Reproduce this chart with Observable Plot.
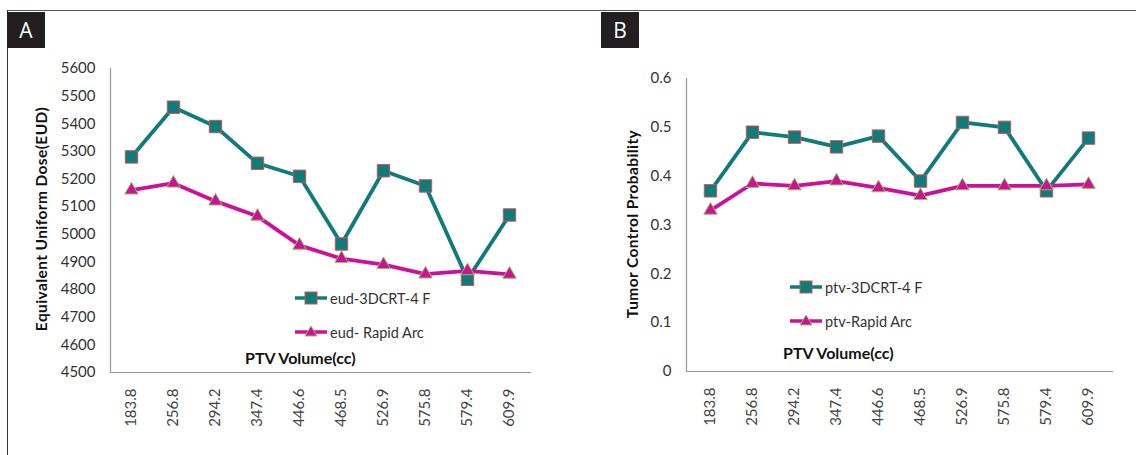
<!DOCTYPE html>
<html>
<head>
<meta charset="utf-8">
<script src="https://cdn.jsdelivr.net/npm/d3@7"></script>
<script src="https://cdn.jsdelivr.net/npm/@observablehq/plot@0.6"></script>
<style>
  html, body { margin: 0; padding: 0; background: #fff; }
  #root { position: relative; width: 1136px; height: 455px; overflow: hidden; font-family: Lato, "Open Sans", sans-serif; }
  .panel { position: absolute; top: 0; }
  .tag { position: absolute; top: 12px; width: 38px; height: 36px; background: #231f20; color: #fff;
         font: 21px "Open Sans", sans-serif; line-height: 36px; text-align: center; }
  .ytitle { position: absolute; font-weight: bold; font-size: 15.5px; color: #111; white-space: nowrap;
            transform: translate(-50%, -50%) rotate(-90deg); letter-spacing: 0.4px; }
  .xtitle { position: absolute; font-weight: bold; font-size: 16px; color: #111; white-space: nowrap; }
  .leg { position: absolute; display: flex; align-items: center; font-size: 14.5px; color: #333; white-space: nowrap; }
  .leg svg { margin-right: 3px; }
  .border-top { position: absolute; left: 7px; top: 10px; width: 1129px; height: 0; border-top: 1.5px solid #555; }
  .border-left { position: absolute; left: 7px; top: 10px; width: 0; height: 445px; border-left: 1.5px solid #333; }
</style>
</head>
<body>
<div id="root">
  <div class="border-top"></div>
  <div class="border-left"></div>
</div>
<script>
// ---- data ----
const volumes = ["183.8","256.8","294.2","347.4","446.6","468.5","526.9","575.8","579.4","609.9"];
const eud3dcrt = [5280, 5460, 5390, 5257, 5210, 4965, 5230, 5175, 4837, 5070];
const eudRapidArc = [5160, 5185, 5120, 5065, 4960, 4912, 4890, 4856, 4868, 4855];
const tcp3dcrt = [0.37, 0.49, 0.48, 0.46, 0.482, 0.39, 0.51, 0.50, 0.37, 0.478];
const tcpRapidArc = [0.33, 0.385, 0.38, 0.39, 0.376, 0.36, 0.38, 0.38, 0.38, 0.383];
const eudTicks = [4500, 4600, 4700, 4800, 4900, 5000, 5100, 5200, 5300, 5400, 5500, 5600];
const tcpTicks = [0, 0.1, 0.2, 0.3, 0.4, 0.5, 0.6];
const seriesNamesA = ["eud-3DCRT-4 F", "eud- Rapid Arc"];
const seriesNamesB = ["ptv-3DCRT-4 F", "ptv-Rapid Arc"];

const TEAL = "#0f7b7b", TEAL_EDGE = "#c8554f";
const MAG = "#cc1199", MAG_EDGE = "#9bbb59";

const rows = (vals) => volumes.map((v, i) => ({volume: v, value: vals[i]}));

function panel({a, b, yTicks, yDomain, width, ml, mr, mt, mb}) {
  return Plot.plot({
    width, height: 455,
    marginLeft: ml, marginRight: mr, marginTop: mt, marginBottom: mb,
    style: {fontFamily: "Lato, 'Open Sans', sans-serif", fontSize: "15px", color: "#333", background: "transparent", overflow: "visible"},
    x: {type: "point", domain: volumes, padding: 0.5, axis: null},
    y: {domain: yDomain, axis: null},
    marks: [
      Plot.frame({anchor: "left", stroke: "#999", strokeWidth: 1.2}),
      Plot.frame({anchor: "bottom", stroke: "#999", strokeWidth: 1.2}),
      Plot.axisY({ticks: yTicks, tickSize: 0, tickPadding: 15, tickFormat: d => String(d), label: null, fill: "#333"}),
      Plot.axisX({tickRotate: -90, tickSize: 0, tickPadding: 16, label: null, fill: "#444"}),
      Plot.line(rows(a), {x: "volume", y: "value", stroke: TEAL, strokeWidth: 3.8}),
      Plot.line(rows(b), {x: "volume", y: "value", stroke: MAG, strokeWidth: 3.8}),
      Plot.dot(rows(a), {x: "volume", y: "value", symbol: "square", r: 7, fill: TEAL, stroke: TEAL_EDGE, strokeWidth: 1}),
      Plot.dot(rows(b), {x: "volume", y: "value", symbol: "triangle", r: 5, fill: MAG, stroke: MAG_EDGE, strokeWidth: 1})
    ]
  });
}

const root = document.getElementById("root");

function place(el, left) {
  const d = document.createElement("div");
  d.className = "panel";
  d.style.left = left + "px";
  d.appendChild(el);
  root.appendChild(d);
}

place(panel({a: eud3dcrt, b: eudRapidArc, yTicks: eudTicks, yDomain: [4500, 5600], width: 570, ml: 110, mr: 40, mt: 68, mb: 83}), 0);
place(panel({a: tcp3dcrt, b: tcpRapidArc, yTicks: tcpTicks, yDomain: [0, 0.6], width: 566, ml: 116, mr: 24, mt: 78, mb: 84}), 570);

function addHTML(html) { root.insertAdjacentHTML("beforeend", html); }

addHTML(`<div class="tag" style="left:7px">A</div>`);
addHTML(`<div class="tag" style="left:601px">B</div>`);
addHTML(`<div class="ytitle" style="left:41px; top:219px">Equivalent Uniform Dose(EUD)</div>`);
addHTML(`<div class="ytitle" style="left:632px; top:224px">Tumor Control Probability</div>`);
addHTML(`<div class="xtitle" style="left:245px; top:348px">PTV Volume(cc)</div>`);
addHTML(`<div class="xtitle" style="left:783px; top:343px">PTV Volume(cc)</div>`);

function legendItem(name, color, edge, shape, left, top) {
  const sym = shape === "square"
    ? `<rect x="10" y="4" width="12" height="12" fill="${color}" stroke="${edge}" stroke-width="1"/>`
    : `<path d="M16,4 L22,14 L10,14 Z" fill="${color}" stroke="${edge}" stroke-width="1"/>`;
  addHTML(`<div class="leg" style="left:${left}px; top:${top}px"><svg width="32" height="20"><line x1="0" x2="32" y1="10" y2="10" stroke="${color}" stroke-width="3.5"/>${sym}</svg>${name}</div>`);
}
legendItem(seriesNamesA[0], TEAL, TEAL_EDGE, "square", 295, 288);
legendItem(seriesNamesA[1], MAG, MAG_EDGE, "triangle", 295, 322);
legendItem(seriesNamesB[0], TEAL, TEAL_EDGE, "square", 790, 277);
legendItem(seriesNamesB[1], MAG, MAG_EDGE, "triangle", 790, 311);
</script>
</body>
</html>
